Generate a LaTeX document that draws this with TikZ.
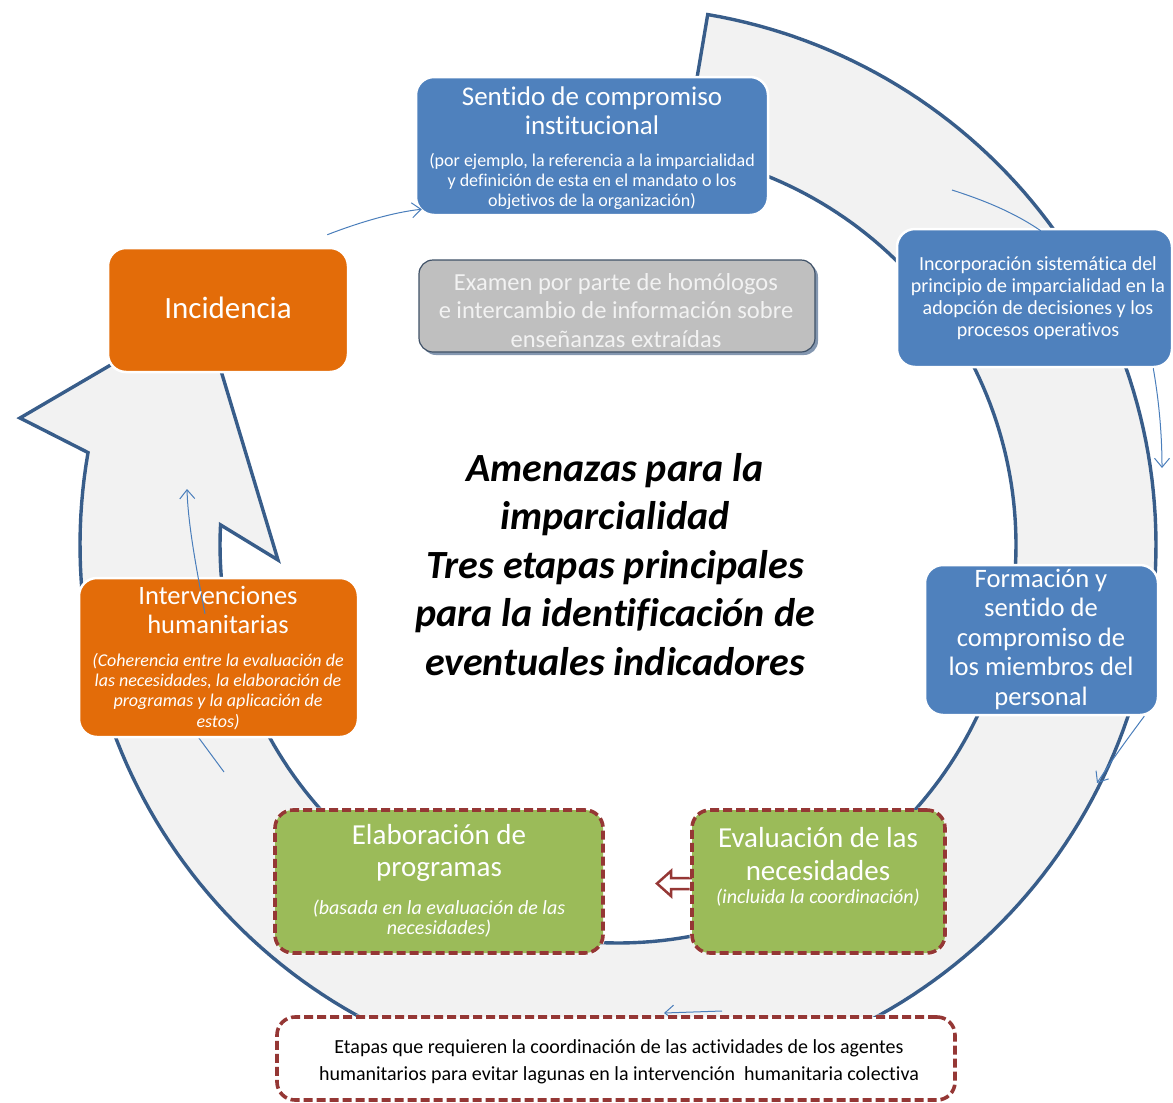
\documentclass[tikz,border=0pt]{standalone}
\usepackage{fontspec}
\setmainfont{Carlito}[Ligatures=CommonOff]
\usetikzlibrary{arrows.meta,calc}
\definecolor{boxblue}{HTML}{4F81BD}
\definecolor{boxorange}{HTML}{E36C09}
\definecolor{boxgreen}{HTML}{9BBB59}
\definecolor{dashred}{HTML}{953735}
\definecolor{ringfill}{HTML}{F2F2F2}
\definecolor{ringline}{HTML}{385D8A}
\definecolor{thinblue}{HTML}{4A7EBB}
\definecolor{graybox}{HTML}{BFBFBF}
\definecolor{grayline}{HTML}{3F5167}
\definecolor{grayshadow}{HTML}{8497B0}
\definecolor{lighttext}{HTML}{F2F2F2}
\newcommand\fsz[2]{\fontsize{#1}{#2}\selectfont}
\begin{document}
\begin{tikzpicture}[x=1pt,y=-1pt,
  box/.style={rounded corners=18pt, draw=white, line width=2.5pt, inner sep=0pt},
  bluebox/.style={box, fill=boxblue},
  orangebox/.style={box, fill=boxorange},
  dashbox/.style={rounded corners=18pt, inner sep=0pt,
     preaction={draw=white, line width=5pt},
     draw=dashred, line width=3.6pt, dash pattern=on 9pt off 4pt},
  greenbox/.style={dashbox, fill=boxgreen},
  wtext/.style={text=white, align=center, inner sep=0pt},
  conn/.style={draw=thinblue, line width=1pt},
  tipv/.style={-{Straight Barb[length=9pt,width=15pt]}},
]
\useasboundingbox (0,0) rectangle (1173,1103);

% big circular arrow
\draw[ringline, line width=3.4pt, fill=ringfill, line join=miter]
  plot[domain=-80.4:189.9, samples=200] ({618+538*cos(\x)},{545+538*sin(\x)})
  -- (20,418) -- (203,311) -- (278,560)
  -- plot[domain=182.9:-80.4, samples=200] ({618+398*cos(\x)},{545+398*sin(\x)})
  -- cycle;

% free ends of partly hidden connectors
\coordinate (bstart) at (952,190);
\coordinate (estart) at (722,1011);
\coordinate (fstart) at (224,772);

% boxes
\node[bluebox, minimum width=352pt, minimum height=138pt] (sent) at (592,146) {};
\node[bluebox, minimum width=275pt, minimum height=138pt] (incorp) at (1034.5,298) {};
\node[bluebox, minimum width=233pt, minimum height=150pt] (form) at (1041.5,640) {};

% connectors beneath boxes
\draw[conn] (bstart) .. controls (980,199) and (1012,211) .. ($(incorp.north west)+(145,3)$);
\draw[conn,tipv] ($(incorp.south east)+(-20,0)$) .. controls (1158,395) and (1162,430) .. (1162,468);
\draw[conn,tipv] ($(form.south east)+(-15,0)$) .. controls (1128,738) and (1112,760) .. (1097,783);
\draw[conn,tipv] (estart) -- (664,1013);

\node[orangebox, minimum width=240pt, minimum height=124pt] (inc) at (228,310) {};
\draw[conn] (fstart) -- (193,730);
\node[orangebox, minimum width=279pt, minimum height=159pt] (intv) at (218.5,657.5) {};

% hollow block arrow from Evaluacion towards Elaboracion
\draw[dashred, line width=2.5pt, fill=white, line join=miter]
  ($(818.5,881.5)+(-126.5,-3.5)$) -- ++(-21,0) -- ++(0,-7) -- ++(-14,12.5)
  -- ++(14,12.5) -- ++(0,-7) -- ++(21,0);

\node[greenbox, minimum width=253pt, minimum height=143pt] (eval) at (818.5,881.5) {};
\node[greenbox, minimum width=328pt, minimum height=143pt] (elab) at (439,881.5) {};

% grey box with shadow
\node[fill=grayshadow, rounded corners=14pt, minimum width=396pt, minimum height=92pt, inner sep=0pt] (examshadow) at (620,309) {};
\node[fill=graybox, draw=grayline, line width=1.2pt, rounded corners=14pt, minimum width=396pt, minimum height=92pt, inner sep=0pt] (exam) at (617,306) {};

% bottom note box
\node[dashbox, fill=white, minimum width=678pt, minimum height=83pt] (note) at (616,1058.5) {};

% connectors above boxes
\draw[conn,tipv] ($(inc.north east)+(-22,-12)$) .. controls (360,222) and (395,212) .. ($(sent.south west)+(7,-7)$);
\draw[conn,tipv] ($(intv.north)+(-13.5,37)$) .. controls (197,572) and (188,525) .. (187,489);

% texts
\node[wtext, font=\fsz{27}{29}] (senttitle) at (592,110.5) {Sentido de compromiso\\institucional};
\node[wtext, font=\fsz{18}{20}] (sentsub) at (592,181.5) {(por ejemplo, la referencia a la imparcialidad\\y definición de esta en el mandato o los\\objetivos de la organización)};
\node[wtext, font=\fsz{20}{22}] (incorptext) at (1038,298) {Incorporación sistemática del\\principio de imparcialidad en la\\adopción de decisiones y los\\procesos operativos};
\node[wtext, font=\fsz{26.6}{29.5}] (formtext) at (1041,639) {Formación y\\sentido de\\compromiso de\\los miembros del\\personal};
\node[wtext, font=\fsz{29}{33}] (evaltitle) at (818,854.5) {Evaluación de las\\necesidades};
\node[wtext, font=\fsz{20}{22}\itshape] (evalsub) at (818,898) {(incluida la coordinación)};
\node[wtext, font=\fsz{29}{32}] (elabtitle) at (439,853) {Elaboración de\\programas};
\node[wtext, font=\fsz{20}{20}\itshape] (elabsub) at (439,919) {(basada en la evaluación de las\\necesidades)};
\node[wtext, font=\fsz{26.5}{29}] (intvtitle) at (218,609.5) {Intervenciones\\humanitarias};
\node[wtext, font=\fsz{18}{20.3}\itshape] (intvsub) at (218,691.5) {(Coherencia entre la evaluación de\\las necesidades, la elaboración de\\programas y la aplicación de\\estos)};
\node[wtext, font=\fsz{31}{34}] (inctext) at (228,308) {Incidencia};
\node[text=lighttext, align=center, inner sep=0pt, font=\fsz{24.5}{28.5}] (examtext) at (616,310.5) {Examen por parte de homólogos\\e intercambio de información sobre\\enseñanzas extraídas};
\node[align=center, inner sep=0pt, font=\fsz{40}{48.5}\bfseries\itshape] (title) at (615,564.5) {Amenazas para la\\imparcialidad\\Tres etapas principales\\para la identificación de\\eventuales indicadores};
\node[align=center, inner sep=0pt, font=\fsz{20}{27}] (notetext) at (619,1061.5) {Etapas que requieren la coordinación de las actividades de los agentes\\humanitarios para evitar lagunas en la intervención\ \ humanitaria colectiva};
\end{tikzpicture}
\end{document}
